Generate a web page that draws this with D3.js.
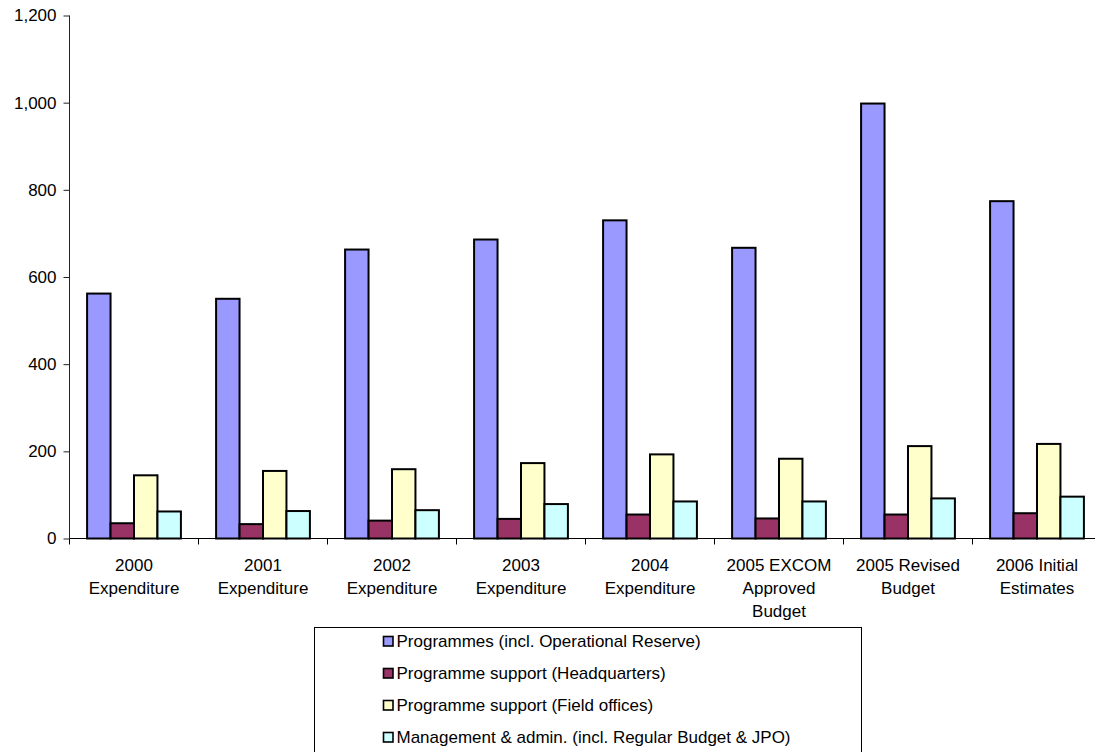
<!DOCTYPE html>
<html>
<head>
<meta charset="utf-8">
<script src="https://cdn.jsdelivr.net/npm/d3@7"></script>
<style>
  html, body { margin: 0; padding: 0; background: #fff; }
  svg { display: block; font-family: "Liberation Sans", Arial, sans-serif; }
</style>
</head>
<body>
<svg id="chart" width="1095" height="752"></svg>
<script>
// Budget categories (x axis), each label split over lines
const categories = [
  ["2000", "Expenditure"],
  ["2001", "Expenditure"],
  ["2002", "Expenditure"],
  ["2003", "Expenditure"],
  ["2004", "Expenditure"],
  ["2005 EXCOM", "Approved", "Budget"],
  ["2005 Revised", "Budget"],
  ["2006 Initial", "Estimates"]
];

const seriesNames = [
  "Programmes (incl. Operational Reserve)",
  "Programme support (Headquarters)",
  "Programme support (Field offices)",
  "Management & admin. (incl. Regular Budget & JPO)"
];

const programmes   = [562, 550, 663, 686, 730, 667, 998, 774];
const hqSupport    = [35, 33, 41, 45, 55, 46, 55, 58];
const fieldSupport = [145, 155, 159, 173, 193, 183, 212, 217];
const management   = [62, 63, 65, 79, 85, 85, 92, 96];

const yTicks = [0, 200, 400, 600, 800, 1000, 1200];

const seriesColors = ["#9999FF", "#993366", "#FFFFCC", "#CCFFFF"];

const seriesValues = [programmes, hqSupport, fieldSupport, management];

const FONT = 17;

const svg = d3.select("#chart");

const plotLeft = 69.5, plotRight = 1101.5, plotTop = 15.5, plotBottom = 538.5;

const x = d3.scaleBand()
  .domain(d3.range(categories.length))
  .range([plotLeft, plotRight])
  .padding(0);

// four bars take 4 / 5.5 of each category (gap width 150%)
const groupW = x.bandwidth() * 4 / 5.5;
const xs = d3.scaleBand()
  .domain(d3.range(seriesNames.length))
  .range([0, groupW])
  .padding(0);

const y = d3.scaleLinear().domain([0, 1200]).range([plotBottom, plotTop]);

// bars
const groups = svg.append("g")
  .selectAll("g")
  .data(categories)
  .join("g")
  .attr("transform", (d, i) => `translate(${x(i) + (x.bandwidth() - groupW) / 2},0)`);

groups.selectAll("rect")
  .data((d, i) => seriesValues.map((vals, s) => ({ s, v: vals[i] })))
  .join("rect")
  .attr("x", d => xs(d.s))
  .attr("width", xs.bandwidth())
  .attr("y", d => y(d.v))
  .attr("height", d => y(0) - y(d.v))
  .attr("fill", d => seriesColors[d.s])
  .attr("stroke", "#000")
  .attr("stroke-width", 2);

// y axis
const yAxis = d3.axisLeft(y)
  .tickValues(yTicks)
  .tickSize(6)
  .tickPadding(7)
  .tickFormat(d3.format(","));

const yG = svg.append("g")
  .attr("transform", `translate(${plotLeft},0)`)
  .call(yAxis);
yG.select(".domain").attr("stroke", "#222").attr("d", `M0,${plotTop}V${plotBottom}`);
yG.selectAll(".tick line").attr("stroke", "#222");
yG.selectAll(".tick text")
  .attr("font-size", FONT)
  .attr("fill", "#000")
  .attr("font-family", "Liberation Sans, Arial, sans-serif");

// x axis: baseline plus ticks between categories
const xG = svg.append("g");
xG.append("line")
  .attr("x1", plotLeft).attr("x2", plotRight)
  .attr("y1", y(0)).attr("y2", y(0))
  .attr("stroke", "#000");
xG.selectAll("line.sep")
  .data(d3.range(categories.length + 1))
  .join("line")
  .attr("class", "sep")
  .attr("x1", i => i < categories.length ? x(i) : plotRight)
  .attr("x2", i => i < categories.length ? x(i) : plotRight)
  .attr("y1", y(0)).attr("y2", y(0) + 6)
  .attr("stroke", "#000");

const labels = xG.selectAll("text.cat")
  .data(categories)
  .join("text")
  .attr("class", "cat")
  .attr("text-anchor", "middle")
  .attr("font-size", FONT)
  .attr("fill", "#000")
  .attr("transform", (d, i) => `translate(${x(i) + x.bandwidth() / 2},${y(0) + 32})`);
labels.selectAll("tspan")
  .data(d => d)
  .join("tspan")
  .attr("x", 0)
  .attr("dy", (d, j) => j === 0 ? 0 : 23)
  .text(d => d);

// legend
const legend = svg.append("g");
legend.append("rect")
  .attr("x", 314.5).attr("y", 627.5)
  .attr("width", 547).attr("height", 140)
  .attr("fill", "#fff")
  .attr("stroke", "#000");

const items = legend.selectAll("g.item")
  .data(seriesNames)
  .join("g")
  .attr("class", "item")
  .attr("transform", (d, i) => `translate(383,${641 + i * 32})`);
items.append("rect")
  .attr("x", 0.5).attr("y", -4.5)
  .attr("width", 9.5).attr("height", 9.5)
  .attr("fill", (d, i) => seriesColors[i])
  .attr("stroke", "#000")
  .attr("stroke-width", 1.6);
items.append("text")
  .attr("x", 13.5)
  .attr("y", 6)
  .attr("font-size", FONT)
  .attr("fill", "#000")
  .text(d => d);
</script>
</body>
</html>
